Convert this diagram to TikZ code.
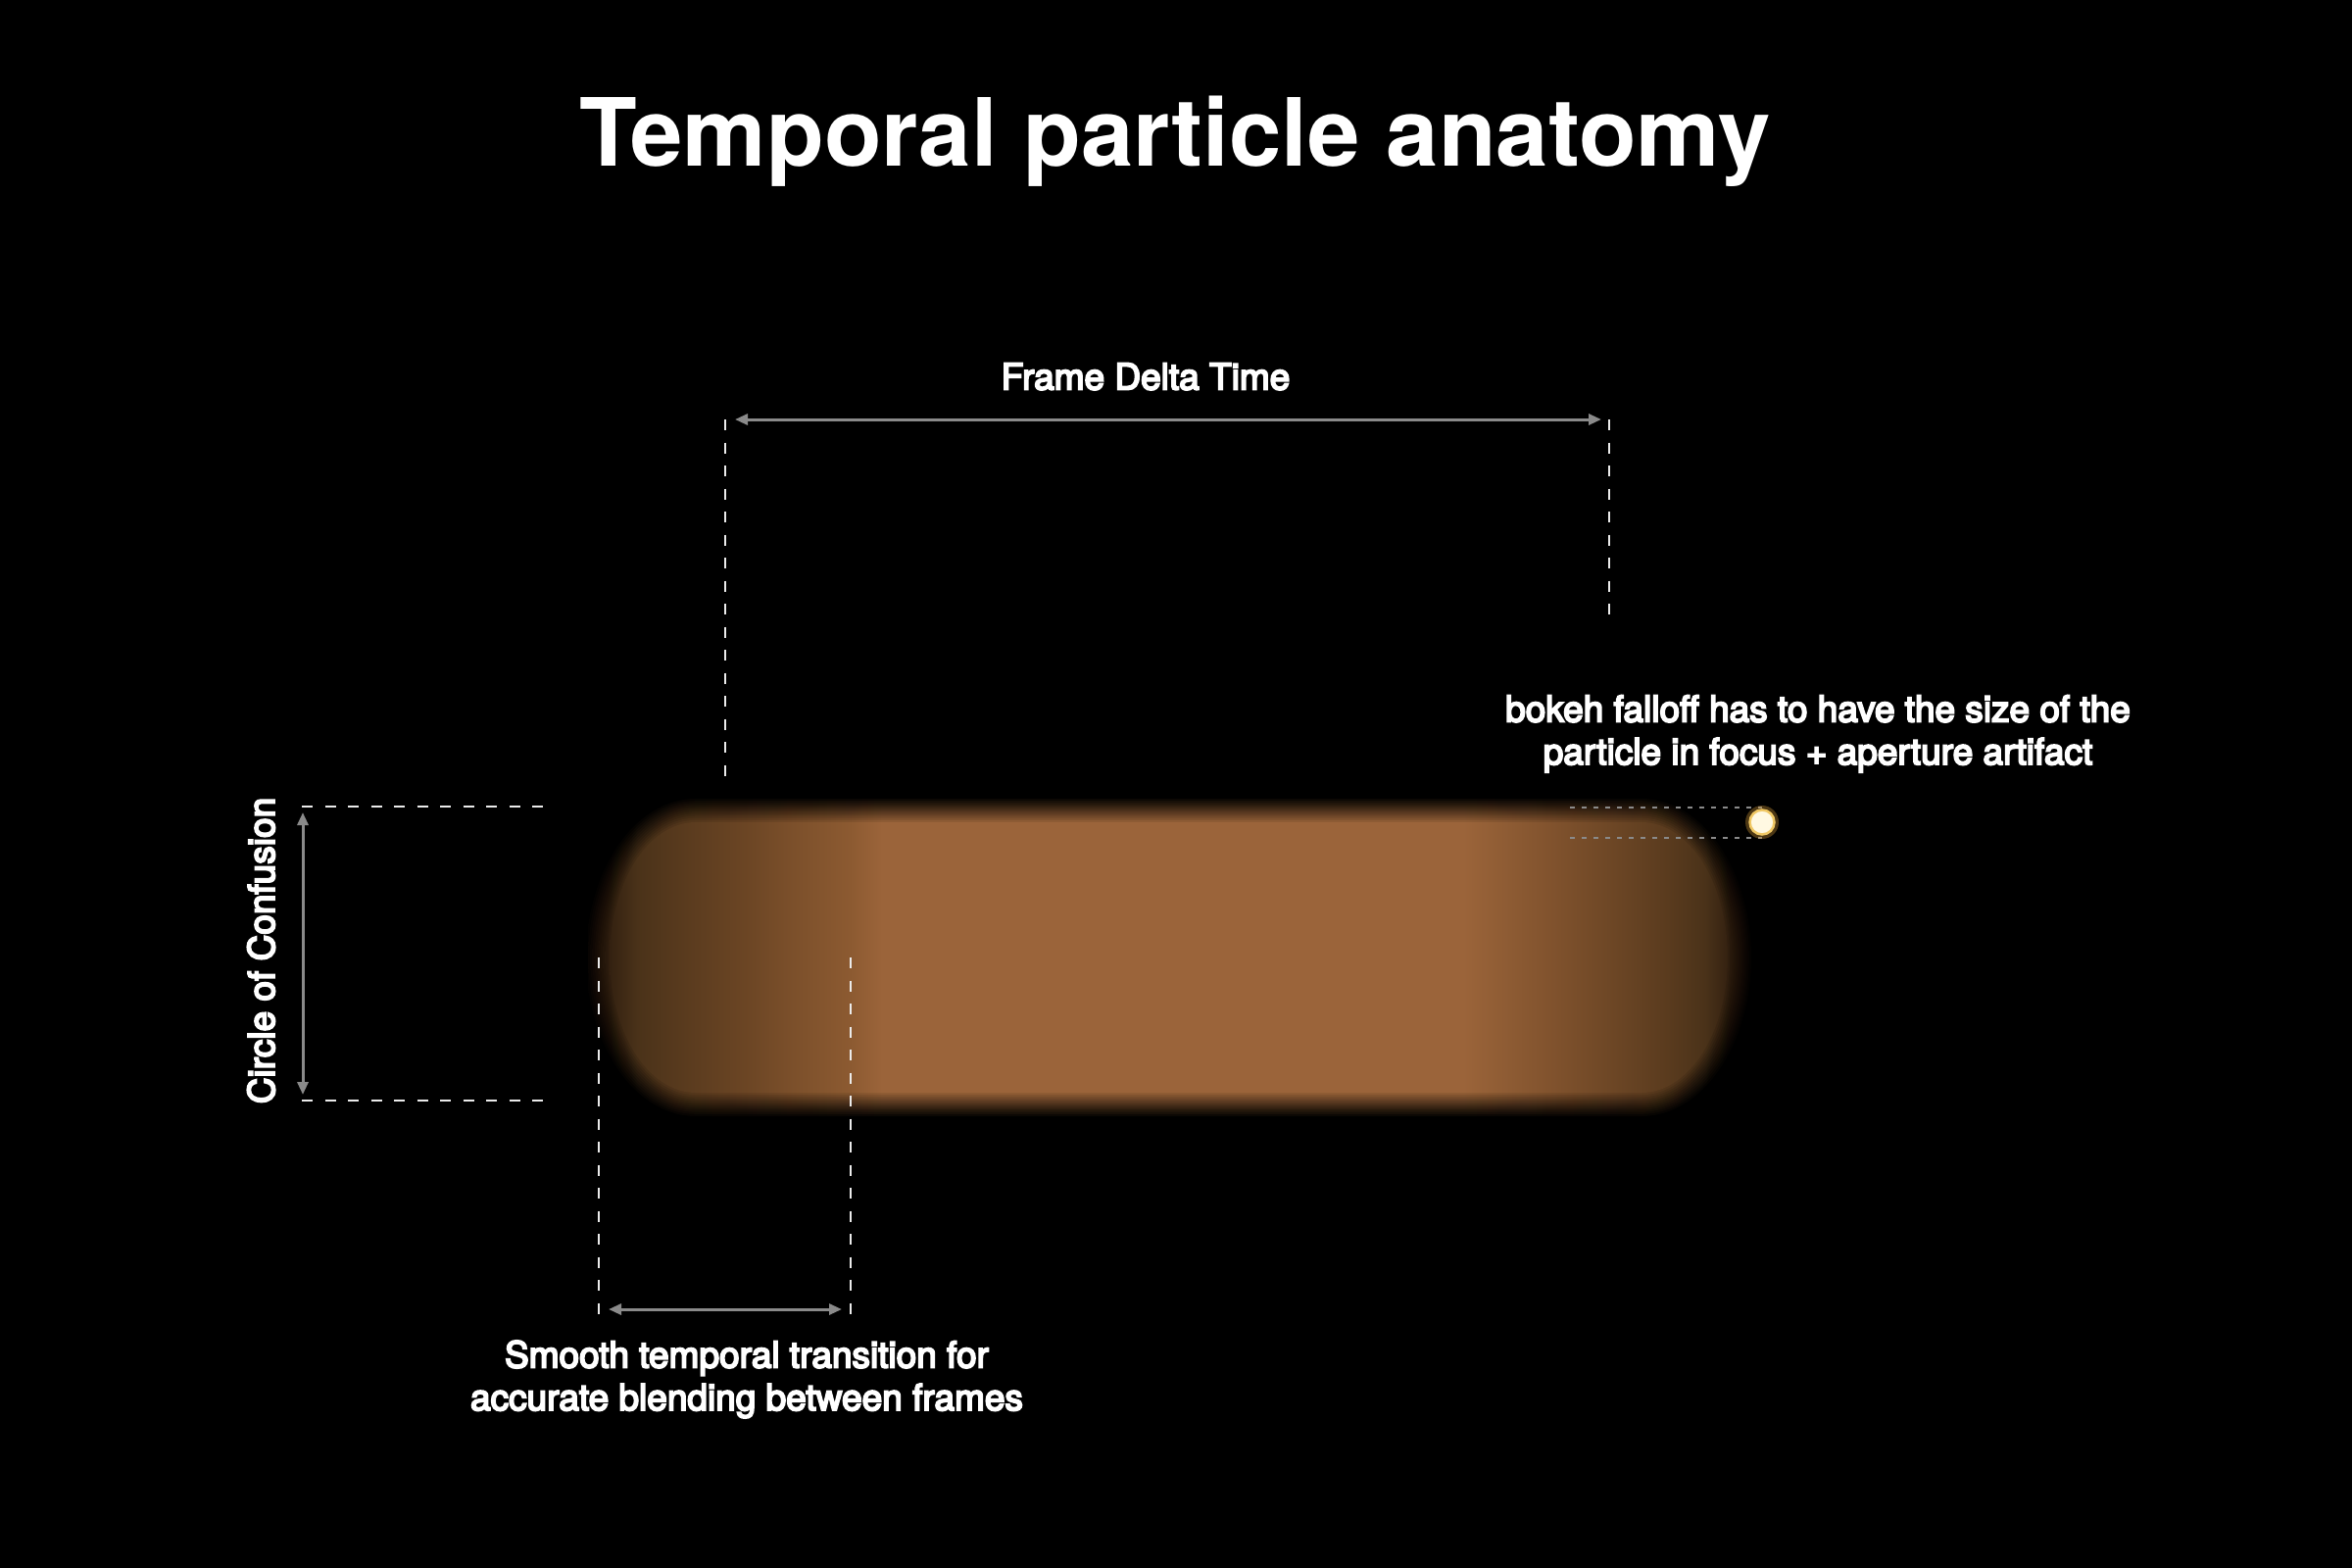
\documentclass[tikz,border=0pt]{standalone}
\usepackage{fontspec}
\setmainfont{TeX Gyre Heros}
\newfontfamily\labfont[FakeBold=5]{TeX Gyre Heros}
\usetikzlibrary{arrows.meta}
\definecolor{guidecol}{RGB}{235,235,235}
\definecolor{dimcol}{RGB}{138,138,138}
\definecolor{k0}{RGB}{50,32,16}
\definecolor{k1}{RGB}{74,50,25}
\definecolor{k2}{RGB}{90,59,30}
\definecolor{k3}{RGB}{107,69,36}
\definecolor{k4}{RGB}{124,80,43}
\definecolor{k5}{RGB}{140,90,49}
\definecolor{k6}{RGB}{155,100,58}
\definecolor{k7}{RGB}{147,95,54}
\definecolor{k8}{RGB}{128,82,45}
\definecolor{k9}{RGB}{108,70,37}
\definecolor{dotcore}{RGB}{255,249,226}
\definecolor{dotrim}{RGB}{240,200,100}
\definecolor{dotglow}{RGB}{220,160,60}
% shading: 25bp..75bp maps to x = 600..1800
\pgfdeclarehorizontalshading{capsuleshade}{100bp}{%
color(0bp)=(k0); color(25bp)=(k0); color(25.833bp)=(k0);
color(27.083bp)=(k1); color(29.167bp)=(k2); color(31.667bp)=(k3);
color(33.75bp)=(k4); color(36.125bp)=(k5); color(37.5bp)=(k6);
color(62.208bp)=(k6); color(63.333bp)=(k7); color(66.042bp)=(k8);
color(68.625bp)=(k9); color(70.875bp)=(k2); color(72.5bp)=(k1);
color(73.542bp)=(k0); color(75bp)=(k0); color(100bp)=(k0)}
\begin{document}
\begin{tikzpicture}[x=1pt,y=1pt,
  guide/.style={draw=guidecol, line width=2pt, dash pattern=on 11pt off 12.5pt},
  fineguide/.style={draw=dimcol, line width=1.6pt, dash pattern=on 5pt off 7pt},
  dimarrow/.style={draw=dimcol, line width=3pt,
    {Triangle[length=13pt,width=11pt]}-{Triangle[length=13pt,width=11pt]}},
  label/.style={text=white, font=\labfont\fontsize{37}{43.5}\selectfont,
    inner sep=0pt, align=center},
  titlestyle/.style={text=white, font=\bfseries\fontsize{96}{110}\selectfont, inner sep=0pt},
]
\fill[black] (0,0) rectangle (2400,-1600);
\useasboundingbox (0,0) rectangle (2400,-1600);

% title
\node[titlestyle, anchor=base] (title) at (1199,-169) {Temporal particle anatomy};

% blurred capsule (stacked layers)
\foreach \k in {1,...,12}{
  \pgfmathsetmacro\d{-12+(\k-1)*24/11}
  \pgfmathsetmacro\a{1/(13-\k)}
  \pgfmathsetmacro\rx{100-\d}
  \pgfmathsetmacro\ry{150-\d}
  \pgfmathsetmacro\yt{-827-\d}
  \pgfmathsetmacro\yb{-1127+\d}
  \begin{scope}
    \clip (710,\yt) -- (1675,\yt)
      arc[start angle=90,end angle=-90,x radius=\rx pt,y radius=\ry pt]
      -- (710,\yb)
      arc[start angle=270,end angle=90,x radius=\rx pt,y radius=\ry pt] -- cycle;
    \shade[shading=capsuleshade, opacity=\a] (600,-790) rectangle (1800,-1165);
  \end{scope}
}

% Frame Delta Time
\coordinate (fdL) at (740,-428);
\coordinate (fdLb) at (740,-793);
\coordinate (fdR) at (1642,-428);
\coordinate (fdRb) at (1642,-628);
\coordinate (fdA1) at (750,-428);
\coordinate (fdA2) at (1634,-428);
\draw[guide] (fdL) -- (fdLb);
\draw[guide] (fdR) -- (fdRb);
\draw[dimarrow] (fdA1) -- (fdA2);
\node[label, anchor=base] (fdt) at (1169,-397.5) {Frame Delta Time};

% Circle of Confusion
\coordinate (ccT) at (308,-823);
\coordinate (ccTe) at (560,-823);
\coordinate (ccB) at (308,-1123);
\coordinate (ccBe) at (560,-1123);
\coordinate (ccA1) at (309,-829);
\coordinate (ccA2) at (309,-1117);
\draw[guide] (ccT) -- (ccTe);
\draw[guide] (ccB) -- (ccBe);
\draw[dimarrow] (ccA1) -- (ccA2);
\node[label, anchor=base, rotate=90] (cct) at (280,-970) {Circle of Confusion};

% Smooth temporal transition
\coordinate (stL) at (611,-977);
\coordinate (stLb) at (611,-1342);
\coordinate (stR) at (868,-977);
\coordinate (stRb) at (868,-1342);
\coordinate (stA1) at (621,-1336);
\coordinate (stA2) at (859,-1336);
\draw[guide] (stL) -- (stLb);
\draw[guide] (stR) -- (stRb);
\draw[dimarrow] (stA1) -- (stA2);
\node[label, anchor=base] (stt) at (762,-1439) {Smooth temporal transition for\\accurate blending between frames};

% bokeh dot
\coordinate (dotc) at (1798,-839);
\coordinate (bkT) at (1602,-824);
\coordinate (bkB) at (1602,-855);
\draw[fineguide] (bkT) -- (bkT -| dotc);
\draw[fineguide] (bkB) -- (bkB -| dotc);
\fill[dotglow, opacity=0.35] (dotc) circle (17pt);
\node[circle, fill=dotcore, draw=dotrim, line width=2.5pt, minimum size=25pt, inner sep=0pt] (dot) at (dotc) {};
\node[label, anchor=base] (bkt) at (1855,-780) {bokeh falloff has to have the size of the\\particle in focus + aperture artifact};
\end{tikzpicture}
\end{document}
